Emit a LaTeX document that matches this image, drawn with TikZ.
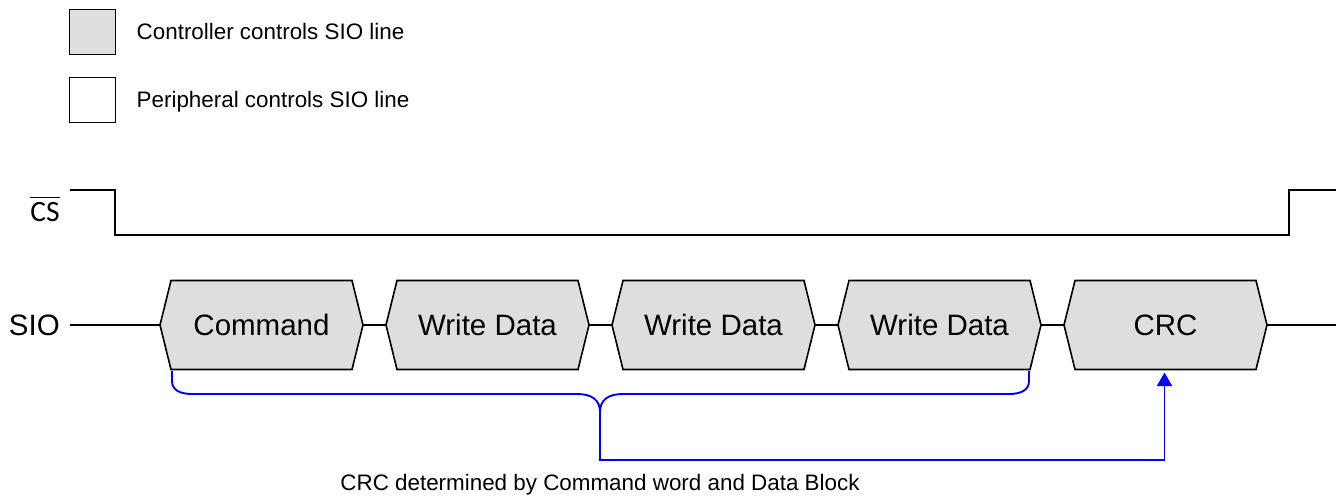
\documentclass[tikz,border=0pt]{standalone}
\usepackage{fontspec}
\setmainfont{Liberation Sans}
\newfontfamily\csfont{Carlito}
\usetikzlibrary{arrows.meta}
\definecolor{hexgray}{RGB}{222,222,222}
\definecolor{brblue}{RGB}{0,0,255}
\begin{document}
\begin{tikzpicture}[x=1pt,y=-1pt,
  wire/.style={draw=black,line width=1.6pt},
  hexbox/.style={fill=hexgray,draw=black,line width=1.6pt,line join=miter},
  legbox/.style={draw=black,line width=1.6pt},
  hexlbl/.style={inner sep=0pt,anchor=base,font=\fontsize{29.5}{34}\selectfont},
  smalltxt/.style={inner sep=0pt,font=\fontsize{22.4}{26}\selectfont},
  bluel/.style={draw=brblue,line width=1.9pt}]
\useasboundingbox (0,0) rectangle (1336,496);
% legend
\draw[legbox,fill=hexgray] (69.5,9.5) rectangle (115.5,54.5);
\draw[legbox,fill=white] (69.5,77.5) rectangle (115.5,122.5);
\node[smalltxt,anchor=base west] (leg1) at (136.5,39.5) {Controller controls SIO line};
\node[smalltxt,anchor=base west] (leg2) at (136.5,107.5) {Peripheral controls SIO line};
% CS
\node[inner sep=0pt,anchor=base,font=\csfont\fontsize{29.5}{34}\selectfont] (cs) at (45,221.5) {CS};
\draw[line width=1.3pt] ([yshift=4.5pt,xshift=-0.5pt]cs.north west) -- ([yshift=4.5pt,xshift=0.5pt]cs.north east);
\coordinate (cs-a) at (70,190);
\coordinate (cs-b) at (1336,190);
\draw[wire] (cs-a) -- (115,190) -- (115,235) -- (1289,235) -- (1289,190) -- (cs-b);
% SIO
\node[hexlbl,anchor=base east] (sio) at (60,335) {SIO};
\coordinate (sio-a) at (70,325);
\coordinate (sio-b) at (1336,325);
\foreach \nm/\x/\t in {cmd/160/Command,wda/386/Write Data,wdb/612/Write Data,wdc/838/Write Data,crc/1064/CRC}{
  \draw[hexbox] (\x,325) -- (\x+11,280.5) -- (\x+192,280.5) -- (\x+203,325) -- (\x+192,369.5) -- (\x+11,369.5) -- cycle;
  \node[hexlbl] (\nm) at (\x+101.5,335) {\t};
  \coordinate (\nm-w) at (\x,325);
  \coordinate (\nm-e) at (\x+203,325);
}
\draw[wire] (sio-a) -- (cmd-w);
\draw[wire] (cmd-e) -- (wda-w);
\draw[wire] (wda-e) -- (wdb-w);
\draw[wire] (wdb-e) -- (wdc-w);
\draw[wire] (wdc-e) -- (crc-w);
\draw[wire] (crc-e) -- (sio-b);
% brace
\coordinate (brl) at (172,371);
\coordinate (brr) at (1029,371);
\coordinate (brm) at (600,412);
\coordinate (arr) at (1164.5,372.5);
\draw[bluel] (brl) -- (172,381) .. controls (172,390) and (180,394) .. (192,394) -- (577,394) .. controls (592,394) and (600,400) .. (brm);
\draw[bluel] (brr) -- (1029,381) .. controls (1029,390) and (1021,394) .. (1009,394) -- (623,394) .. controls (608,394) and (600,400) .. (brm);
\draw[bluel,-{Triangle[length=13.5pt,width=15pt]}] (brm) -- (600,460) -- (1164.5,460) -- (arr);
\node[smalltxt,anchor=base] (note) at (600,490) {CRC determined by Command word and Data Block};
\end{tikzpicture}
\end{document}
